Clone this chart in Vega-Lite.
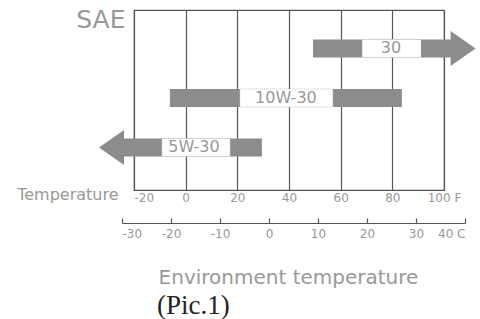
{
  "$schema": "https://vega.github.io/schema/vega-lite/v6.json",
  "width": 310,
  "height": 180,
  "autosize": "none",
  "padding": {"left": 134, "top": 10, "right": 36, "bottom": 129},
  "background": "white",
  "config": {"view": {"stroke": "#555", "strokeWidth": 1.2}},
  "title": {"text": "(Pic.1)", "orient": "bottom", "anchor": "start", "frame": "group", "font": "Liberation Serif", "fontSize": 27, "fontWeight": "normal", "color": "#222", "dx": 23, "offset": 6},
  "layer": [
    {
      "data": {"values": [
        {"grade": "30", "lo": 49.3, "hi": 104, "boxLo": 68.3, "boxHi": 91.1, "mid": 79.5, "head": 107.4, "dir": "right"},
        {"grade": "10W-30", "lo": -6.1, "hi": 83.7, "boxLo": 21, "boxHi": 57, "mid": 38.8, "head": null, "dir": null},
        {"grade": "5W-30", "lo": -26, "hi": 29.5, "boxLo": -9.2, "boxHi": 17.2, "mid": 3.2, "head": -28.7, "dir": "left"}
      ]},
      "encoding": {
        "y": {"field": "grade", "type": "nominal", "scale": {"type": "point", "domain": ["30", "10W-30", "5W-30"], "padding": 0.818, "align": 0.475},
          "axis": {"labels": false, "ticks": false, "domain": false, "grid": false, "title": "SAE", "titleAngle": 0, "titleAlign": "right", "titleBaseline": "alphabetic", "titleX": -9, "titleY": 17, "titleFont": "DejaVu Sans", "titleFontSize": 25, "titleFontWeight": "normal", "titleColor": "#999"}}
      },
      "layer": [
        {
          "mark": {"type": "bar", "height": 18, "color": "#8c8c8c"},
          "encoding": {
            "x": {"field": "lo", "type": "quantitative", "scale": {"domain": [-20, 100], "nice": false, "zero": false},
              "axis": {"orient": "bottom", "values": [-20, 0, 20, 40, 60, 80, 100], "grid": true, "gridColor": "#555", "gridWidth": 1.2, "ticks": false, "domain": false,
                "labelFont": "DejaVu Sans", "labelFontSize": 12, "labelColor": "#999", "labelPadding": 2, "labelBaseline": "top",
                "labelExpr": "datum.value == 100 ? '100 F' : '' + datum.value",
                "labelAlign": {"condition": {"test": "datum.value == -20", "value": "left"}, "value": "center"},
                "title": "Temperature", "titleAlign": "right", "titleBaseline": "alphabetic", "titleX": -16, "titleY": 9, "titleFont": "DejaVu Sans", "titleFontSize": 16, "titleFontWeight": "normal", "titleColor": "#999"}},
            "x2": {"field": "hi"}
          }
        },
        {
          "transform": [{"filter": "datum.head != null"}],
          "mark": {"type": "point", "filled": true, "opacity": 1, "color": "#8c8c8c", "size": 1225, "strokeWidth": 0},
          "encoding": {
            "x": {"field": "head", "type": "quantitative"},
            "shape": {"field": "dir", "type": "nominal", "scale": {"domain": ["right", "left"], "range": ["M-0.714,-1L0.714,0L-0.714,1Z", "M0.714,-1L-0.714,0L0.714,1Z"]}, "legend": null}
          }
        },
        {
          "mark": {"type": "bar", "height": 18, "fill": "white", "stroke": "#bbb", "strokeWidth": 0.8, "strokeDash": [1, 1]},
          "encoding": {
            "x": {"field": "boxLo", "type": "quantitative"},
            "x2": {"field": "boxHi"}
          }
        },
        {
          "mark": {"type": "text", "font": "DejaVu Sans", "fontSize": 16, "color": "#999", "baseline": "middle", "align": "center"},
          "encoding": {
            "x": {"field": "mid", "type": "quantitative"},
            "text": {"field": "grade"}
          }
        }
      ]
    },
    {
      "data": {"values": [{"c": -30}, {"c": -20}, {"c": -10}, {"c": 0}, {"c": 10}, {"c": 20}, {"c": 30}, {"c": 40}]},
      "mark": {"type": "point", "opacity": 0},
      "encoding": {
        "x": {"field": "c", "type": "quantitative", "scale": {"domain": [-30, 40], "range": [-12, 331], "nice": false, "zero": false},
          "axis": {"orient": "bottom", "offset": 33, "values": [-30, -20, -10, 0, 10, 20, 30, 40], "grid": false, "ticks": true, "tickSize": -5, "tickColor": "#555", "tickWidth": 1.2, "domainColor": "#555", "domainWidth": 1.2,
            "labelFont": "DejaVu Sans", "labelFontSize": 12, "labelColor": "#999", "labelPadding": 10, "labelBaseline": "top", "labelFlush": true,
            "labelExpr": "datum.value == 40 ? '40 C' : '' + datum.value",
            "title": "Environment temperature", "titleBaseline": "alphabetic", "titleY": 60, "titleX": 154, "titleFont": "DejaVu Sans", "titleFontSize": 20, "titleFontWeight": "normal", "titleColor": "#999"}}
      }
    }
  ],
  "resolve": {"scale": {"x": "independent"}, "axis": {"x": "independent"}}
}
